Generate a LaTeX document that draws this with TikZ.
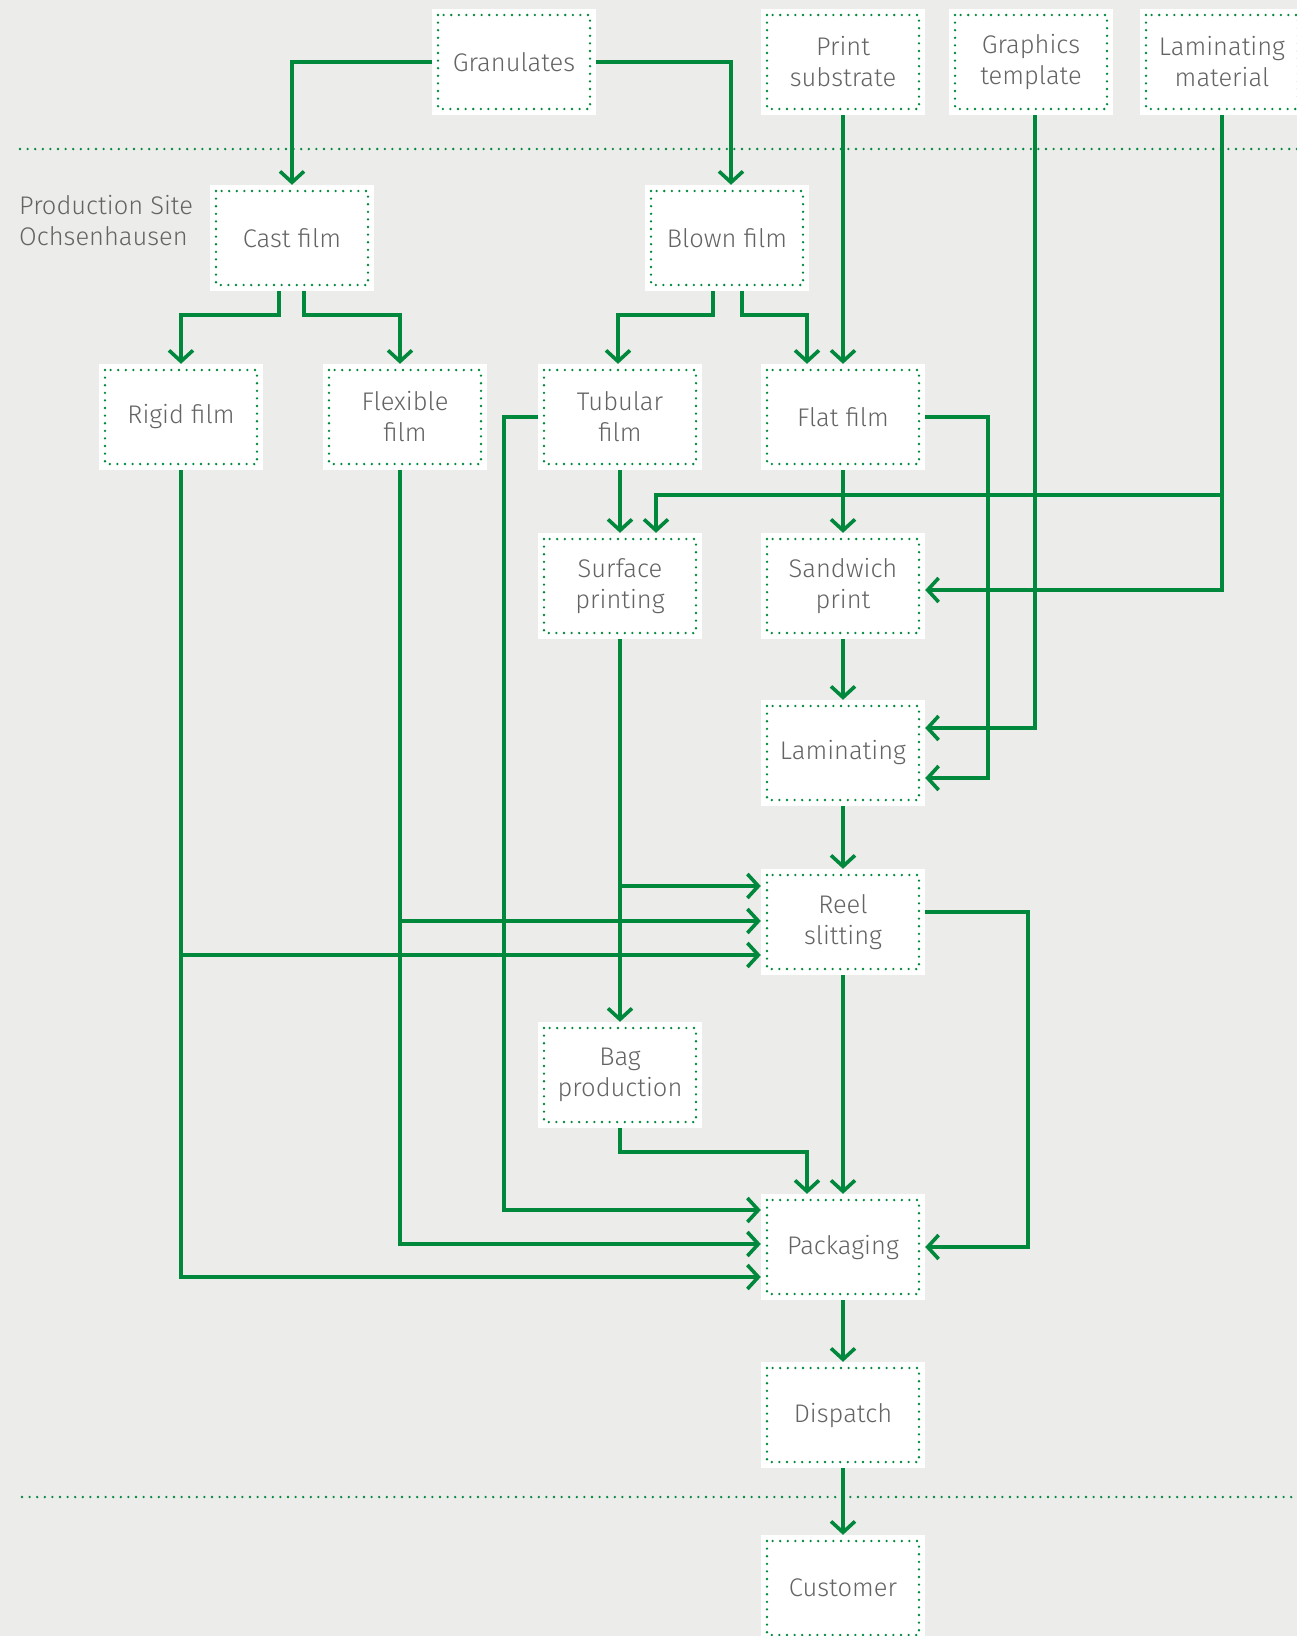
\documentclass[tikz,border=0pt]{standalone}
\usepackage{fontspec}
\IfFontExistsTF{Fira Sans Light}{\setmainfont{Fira Sans Light}}{\setmainfont{Fira Sans}}
\usetikzlibrary{arrows.meta}
\definecolor{gr}{RGB}{0,136,60}
\definecolor{txt}{RGB}{100,100,100}
\definecolor{bg}{RGB}{236,236,235}
\tikzset{
  box/.style={fill=white, minimum width=164pt, minimum height=106pt, inner sep=0pt,
    align=center, text=txt, font=\fontsize{25.5}{31}\selectfont,
    path picture={\draw[gr, line width=2.6pt, line cap=round, dash pattern=on 0pt off 7.6pt]
      ([shift={(6pt,-6pt)}]path picture bounding box.north west) rectangle
      ([shift={(-6pt,6pt)}]path picture bounding box.south east);}},
  arr/.style={gr, line width=3.6pt, -{Straight Barb[length=11pt,width=24pt,line width=3.6pt]}},
  sep/.style={gr, line width=2.6pt, line cap=round, dash pattern=on 0pt off 7.6pt},
  lbl/.style={text=txt, font=\fontsize{25.5}{31}\selectfont, align=left, inner sep=0pt}
}
\begin{document}
\begin{tikzpicture}[x=1pt,y=-1pt]
\useasboundingbox (0,0) rectangle (1297,1636);
\clip (0,0) rectangle (1297,1636);
\fill[bg] (0,0) rectangle (1297,1636);

\draw[sep] (20,149) -- (1297,149);
\draw[sep] (22,1497) -- (1297,1497);

\node[box] (gran) at (514,62) {Granulates};
\node[box] (print) at (843,62) {Print\\substrate};
\node[box] (graph) at (1031,62) {Graphics\\template};
\node[box] (lammat) at (1222,62) {Laminating\\material};

\node[lbl, anchor=west] (site) at (19,221) {Production Site\\Ochsenhausen};

\node[box] (cast) at (292,238) {Cast film};
\node[box] (blown) at (727,238) {Blown film};

\node[box] (rigid) at (181,417) {Rigid film};
\node[box] (flex) at (405,417) {Flexible\\film};
\node[box] (tub) at (620,417) {Tubular\\film};
\node[box] (flat) at (843,417) {Flat film};

\node[box] (surf) at (620,586) {Surface\\printing};
\node[box] (sand) at (843,586) {Sandwich\\print};
\node[box] (lamin) at (843,753) {Laminating};
\node[box] (reel) at (843,922) {Reel\\slitting};
\node[box] (bag) at (620,1075) {Bag\\production};
\node[box] (pack) at (843,1247) {Packaging};
\node[box] (disp) at (843,1415) {Dispatch};
\node[box] (cust) at (843,1588) {Customer};

% upper section
\draw[arr] (gran.west) -| (cast.north);
\draw[arr] (gran.east) -| ([xshift=4pt]blown.north);
\draw[arr] ([xshift=-13pt]cast.south) -- ++(0,24) -| (rigid.north);
\draw[arr] ([xshift=12pt]cast.south) -- ++(0,24) -| ([xshift=-5pt]flex.north);
\draw[arr] ([xshift=-14pt]blown.south) -- ++(0,24) -| ([xshift=-2pt]tub.north);
\draw[arr] ([xshift=15pt]blown.south) -- ++(0,24) -| ([xshift=-36pt]flat.north);
\draw[arr] (print.south) -- (flat.north);

% right feeds
\draw[arr] ([xshift=4pt]graph.south) |- ([yshift=25pt]lamin.east);
\draw[arr] (flat.east) -- ++(63,0) |- ([yshift=-25pt]lamin.east);
\draw[arr] (lammat.south) -- ++(0,380) -| ([xshift=36pt]surf.north);
\draw[arr] (lammat.south) |- ([yshift=-4pt]sand.east);

% main column
\draw[arr] (tub.south) -- (surf.north);
\draw[arr] (flat.south) -- (sand.north);
\draw[arr] (sand.south) -- (lamin.north);
\draw[arr] (lamin.south) -- (reel.north);
\draw[arr] (reel.south) -- (pack.north);
\draw[arr] (pack.south) -- (disp.north);
\draw[arr] (disp.south) -- (cust.north);

% to reel slitting
\draw[arr] (surf.south) -- (bag.north);
\draw[arr] (surf.south) |- ([yshift=36pt]reel.west);
\draw[arr] ([xshift=-5pt]flex.south) |- ([yshift=1pt]reel.west);
\draw[arr] (rigid.south) |- ([yshift=-33pt]reel.west);

% to packaging
\draw[arr] (tub.west) -- ++(-34,0) |- ([yshift=37pt]pack.west);
\draw[arr] ([xshift=-5pt]flex.south) |- ([yshift=3pt]pack.west);
\draw[arr] (rigid.south) |- ([yshift=-30pt]pack.west);
\draw[arr] ([yshift=10pt]reel.east) -- ++(103,0) |- (pack.east);
\draw[arr] (bag.south) -- ++(0,24) -| ([xshift=-36pt]pack.north);
\end{tikzpicture}
\end{document}
